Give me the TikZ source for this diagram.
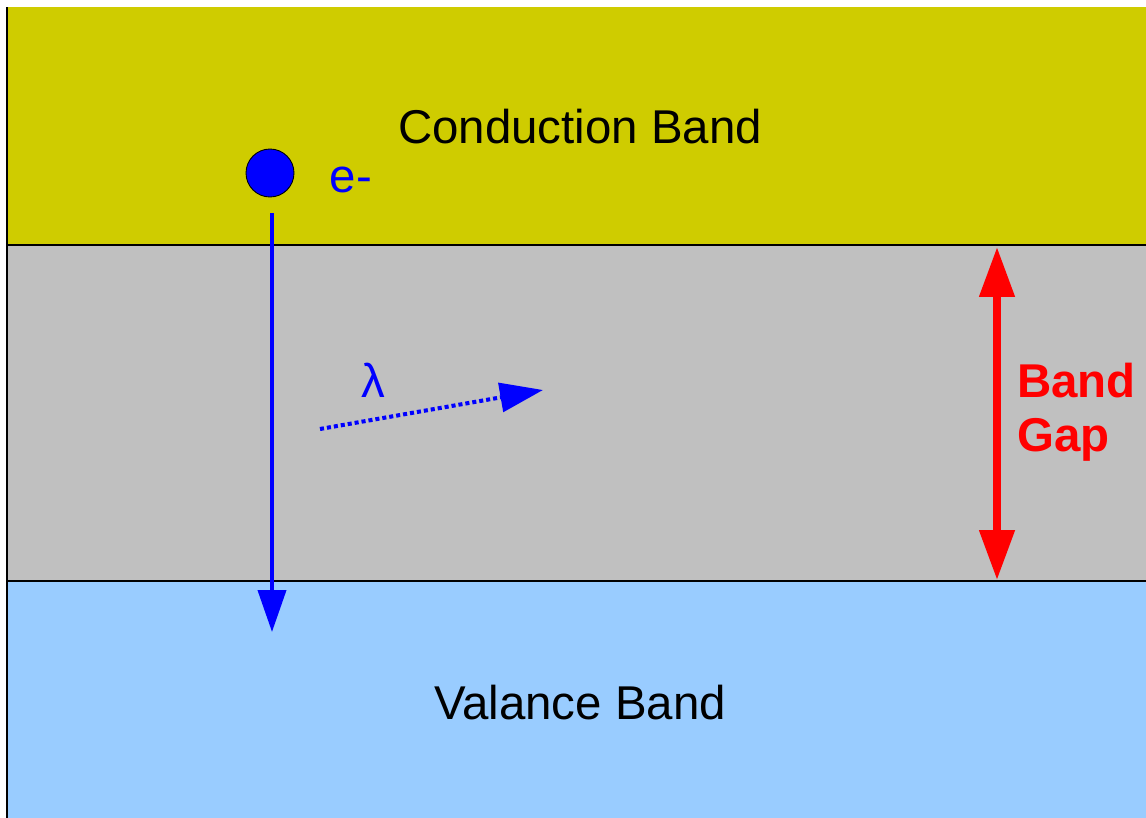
\documentclass[tikz,border=0pt]{standalone}
\usepackage{fontspec}
\setmainfont{Liberation Sans}
\usetikzlibrary{arrows.meta,positioning}
\definecolor{condband}{HTML}{CFCC00}
\definecolor{gapgray}{HTML}{C0C0C0}
\definecolor{valband}{HTML}{99CCFF}
\tikzset{lbl/.style={font=\fontsize{27}{31}\selectfont,inner sep=0pt},
  electron/.style={circle,draw=black,line width=0.5pt,fill=blue,minimum size=0.96cm,inner sep=0pt},
  fall/.style={-{Triangle[length=0.84cm,width=0.56cm]},blue,line width=2.3pt},
  photon/.style={-{Triangle[length=0.86cm,width=0.58cm]},blue,line width=2.3pt,dash pattern=on 2.3pt off 1.7pt},
  gap/.style={{Triangle[length=1cm,width=0.68cm]}-{Triangle[length=1cm,width=0.68cm]},red,line width=4.5pt}}

\begin{document}
\begin{tikzpicture}[x=0.02cm,y=-0.02cm]
\useasboundingbox (0,0) rectangle (1146,818);
% the three bands
\fill[condband] (7,7) rectangle (1146,245);
\fill[gapgray] (7,245) rectangle (1146,581);
\fill[valband] (7,581) rectangle (1146,818);
\draw[line width=0.6pt] (7,7)--(7,818);
\draw[line width=0.6pt] (7,245)--(1146,245);
\draw[line width=0.6pt] (7,581)--(1146,581);
\node[lbl] (cb) at (580,127) {Conduction Band};
\node[lbl] (vb) at (580,703) {Valance Band};
% electron and its fall
\node[electron] (e) at (270,173) {};
\node[lbl,blue,right=0.7cm of e,yshift=-0.14cm] (eminus) {e-};
\coordinate (fall top) at (272,213);
\coordinate (fall end) at (272,632);
\draw[fall] (fall top) -- (fall end);
% emitted photon
\coordinate (ph start) at (320,429);
\coordinate (ph end) at (543,390);
\draw[photon] (ph start) -- (ph end);
\node[lbl,blue] (lambda) at (373,380) {λ};
% band gap
\coordinate (gap top) at (997,247);
\coordinate (gap bot) at (997,580);
\draw[gap] (gap top) -- (gap bot);
\node[lbl,red,font=\fontsize{27}{31}\selectfont\bfseries,align=left,anchor=west] (gaplbl) at (1017,412) {Band\\Gap};
\end{tikzpicture}
\end{document}
